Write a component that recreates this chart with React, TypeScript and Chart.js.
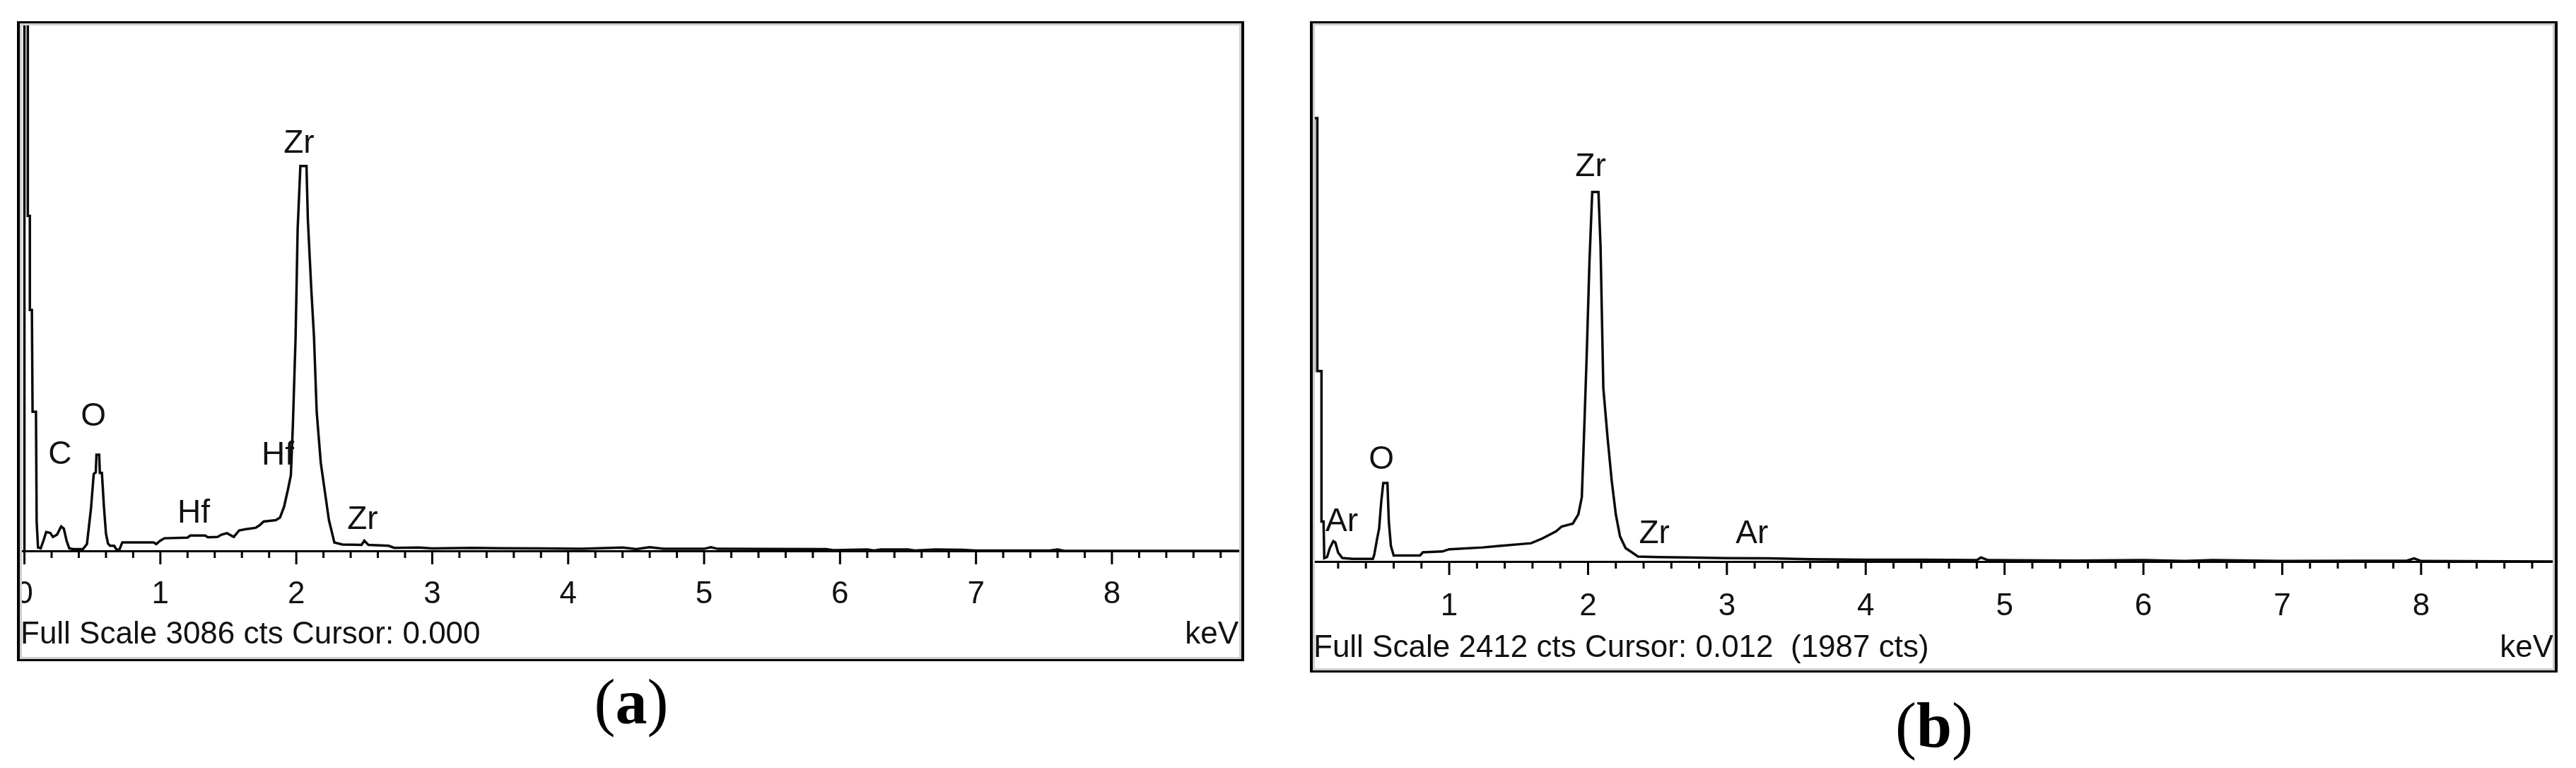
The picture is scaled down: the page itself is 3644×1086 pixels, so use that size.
import React, { useEffect, useRef } from 'react';
import { Chart, registerables } from 'chart.js';

Chart.register(...registerables);

// ---------------- DATA ----------------
// Panel (a)
const energyA = [
  0.0, 0.0, 0.025, 0.025, 0.04, 0.04, 0.055, 0.06, 0.085, 0.09, 0.1, 0.12,
  0.14, 0.16, 0.19, 0.21, 0.24, 0.27, 0.29, 0.31, 0.33, 0.36, 0.43,
  0.46, 0.49, 0.51, 0.525, 0.53, 0.55, 0.555, 0.57, 0.585, 0.6, 0.615, 0.63, 0.66, 0.68, 0.7, 0.72,
  0.95, 0.97, 1.0, 1.03, 1.2, 1.22, 1.33, 1.35, 1.42, 1.45, 1.49, 1.54, 1.58, 1.63, 1.7, 1.73, 1.76,
  1.85, 1.88, 1.91, 1.94, 1.96, 1.975, 1.995, 2.01, 2.03, 2.075, 2.085, 2.11, 2.13, 2.15, 2.18, 2.21,
  2.24, 2.28, 2.34, 2.48, 2.5, 2.53, 2.68, 2.72,
  2.9, 3.0, 3.3, 3.5, 3.8, 4.1, 4.4, 4.5, 4.6, 4.7, 5.0, 5.05, 5.1, 5.9, 5.95, 6.2, 6.25, 6.3,
  6.5, 6.55, 6.7, 6.9, 7.0, 7.55, 7.6, 7.65, 8.96,
];
const countsA = [
  0, 3600, 3600, 1960, 1960, 1410, 1410, 814, 814, 172, 20, 15,
  60, 110, 105, 82, 95, 143, 130, 60, 15, 10, 10,
  40, 250, 450, 460, 563, 563, 456, 456, 258, 100, 43, 30, 30, 5, 10, 50,
  50, 40, 60, 74, 78, 90, 90, 80, 82, 95, 104, 82, 120, 127, 135, 150, 172,
  180, 195, 258, 364, 442, 739, 1256, 1883, 2251, 2251, 1940, 1535, 1256, 814, 516, 348,
  180, 49, 37, 35, 60, 35, 30, 18,
  20, 14, 18, 16, 14, 12, 20, 10, 22, 12, 12, 22, 12, 10, 4, 8, 2, 8,
  8, 2, 8, 6, 2, 3, 8, 0, 0,
];
const peakNamesA = ['C', 'O', 'Hf', 'Hf', 'Zr', 'Zr'];
const peakEnergyA = [0.262, 0.507, 1.245, 1.864, 2.02, 2.488];
const peakCountsA = [508, 733, 164, 503, 2329, 127];
const fullScaleA = 3086;
const footerA = 'Full Scale 3086 cts Cursor: 0.000';

// Panel (b)
const energyB = [
  0.0, 0.025, 0.025, 0.05, 0.05, 0.08, 0.08, 0.095, 0.1,
  0.12, 0.14, 0.165, 0.18, 0.2, 0.23, 0.3, 0.45,
  0.46, 0.48, 0.495, 0.51, 0.525, 0.555, 0.565, 0.58, 0.6, 0.79, 0.81, 0.95, 1.0,
  1.24, 1.36, 1.59, 1.67, 1.77, 1.81, 1.89, 1.93, 1.955, 1.97, 1.99, 2.01, 2.03, 2.075,
  2.09, 2.11, 2.14, 2.17, 2.2, 2.23, 2.27, 2.36, 2.5,
  2.7, 3.0, 3.3, 3.6, 4.0, 4.4, 4.8, 4.83, 4.88, 5.5, 6.0, 6.3, 6.5, 6.8, 7.0, 7.5, 7.9, 7.95, 8.0, 8.96,
];
const countsB = [
  853, 853, 1987, 1987, 853, 853, 179, 179, 15,
  20, 60, 91, 85, 40, 16, 12, 12,
  30, 100, 147, 266, 352, 352, 179, 70, 27, 27, 41, 45, 55,
  63, 70, 82, 103, 135, 157, 170, 211, 288, 549, 919, 1342, 1656, 1656,
  1408, 778, 558, 364, 211, 113, 60, 22, 20,
  18, 15, 14, 10, 8, 8, 6, 18, 6, 4, 6, 2, 6, 4, 2, 3, 4, 14, 2, 0,
];
const peakNamesB = ['Ar', 'O', 'Zr', 'Zr', 'Ar'];
const peakEnergyB = [0.226, 0.511, 2.018, 2.477, 3.18];
const peakCountsB = [135, 414, 1728, 82, 82];
const fullScaleB = 2412;
const footerB = 'Full Scale 2412 cts Cursor: 0.012  (1987 cts)';

const unitLabel = 'keV';
const minorStep = 0.2;

// ---------------- CHART ----------------
const SANS = '"Liberation Sans", Arial, sans-serif';
const SIDE = 60;

const isMajor = (v: number) => Math.abs(v - Math.round(v)) < 1e-6;

const decorPlugin = {
  id: 'decor',
  afterDraw(chart: any, _args: any, opts: any) {
    const { ctx, chartArea } = chart;
    const xs = chart.scales.x;
    const ys = chart.scales.y;
    ctx.save();
    // tick marks
    ctx.strokeStyle = '#000';
    ctx.lineWidth = 3;
    xs.ticks.forEach((t: any) => {
      const px = xs.getPixelForValue(t.value);
      const len = isMajor(t.value) ? opts.majorLen : opts.minorLen;
      ctx.beginPath();
      ctx.moveTo(px, chartArea.bottom);
      ctx.lineTo(px, chartArea.bottom + len);
      ctx.stroke();
    });
    // peak labels
    ctx.fillStyle = '#111';
    ctx.font = `46px ${SANS}`;
    ctx.textAlign = 'center';
    ctx.textBaseline = 'alphabetic';
    opts.names.forEach((n: string, i: number) => {
      ctx.fillText(n, xs.getPixelForValue(opts.energies[i]), ys.getPixelForValue(opts.counts[i]));
    });
    // footer
    ctx.font = `44px ${SANS}`;
    ctx.textAlign = 'left';
    ctx.fillText(opts.footer, chartArea.left + 1, chartArea.bottom + opts.footerDy);
    ctx.textAlign = 'right';
    ctx.fillText(unitLabel, chartArea.right - opts.unitInset, chartArea.bottom + opts.footerDy);
    ctx.restore();
  },
};

type SpecProps = {
  energy: number[];
  counts: number[];
  names: string[];
  peakE: number[];
  peakC: number[];
  fullScale: number;
  footer: string;
  xMin: number;
  xMax: number;
  width: number;
  height: number;
  tickPad: number;
  bottomPad: number;
  footerDy: number;
  majorLen: number;
  minorLen: number;
  unitInset: number;
};

function Spectrum(p: SpecProps) {
  const ref = useRef<HTMLCanvasElement | null>(null);
  useEffect(() => {
    if (!ref.current) return;
    const chart = new Chart(ref.current, {
      type: 'line',
      data: {
        datasets: [
          {
            data: p.energy.map((e, i) => ({ x: e, y: p.counts[i] })),
            borderColor: '#0a0a0a',
            borderWidth: 3.5,
            pointRadius: 0,
            tension: 0,
            fill: false,
          },
        ],
      },
      options: {
        animation: false,
        responsive: false,
        maintainAspectRatio: false,
        events: [],
        layout: { padding: { left: SIDE, right: SIDE, top: 0, bottom: p.bottomPad } },
        plugins: {
          legend: { display: false },
          tooltip: { enabled: false },
          decor: {
            names: p.names,
            energies: p.peakE,
            counts: p.peakC,
            footer: p.footer,
            footerDy: p.footerDy,
            majorLen: p.majorLen,
            minorLen: p.minorLen,
            unitInset: p.unitInset,
          },
        } as any,
        scales: {
          x: {
            type: 'linear',
            min: p.xMin,
            max: p.xMax,
            grid: { display: false },
            border: { display: true, color: '#000', width: 3 },
            ticks: {
              stepSize: minorStep,
              includeBounds: false,
              autoSkip: false,
              maxRotation: 0,
              minRotation: 0,
              padding: p.tickPad,
              color: '#111',
              font: { family: SANS, size: 44, lineHeight: 1 },
              callback: (v: any) => (isMajor(Number(v)) ? String(Math.round(Number(v))) : ''),
            },
          },
          y: { display: false, min: 0, max: p.fullScale },
        },
      },
      plugins: [decorPlugin as any],
    });
    return () => chart.destroy();
  }, []);
  return (
    <canvas
      ref={ref}
      width={p.width}
      height={p.height}
      style={{ position: 'absolute', left: -SIDE, top: 0, width: p.width, height: p.height }}
    />
  );
}

type BoxProps = { left: number; top: number; width: number; height: number; children: React.ReactNode };

function Box({ left, top, width, height, children }: BoxProps) {
  return (
    <div
      style={{
        position: 'absolute',
        left,
        top,
        width,
        height,
        boxSizing: 'border-box',
        borderStyle: 'solid',
        borderColor: '#000',
        borderWidth: '3px 4px 3px 4px',
        overflow: 'hidden',
        background: '#fff',
      }}
    >
      {children}
      <div
        style={{
          position: 'absolute',
          inset: 0,
          boxShadow: 'inset 0 0 0 3px #cfcfcf',
          pointerEvents: 'none',
        }}
      />
    </div>
  );
}

function Caption({ letter, cx, baseline }: { letter: string; cx: number; baseline: number }) {
  const size = 90;
  return (
    <div
      style={{
        position: 'absolute',
        left: cx - 200,
        width: 400,
        top: baseline - size * 0.8375,
        textAlign: 'center',
        fontFamily: '"Liberation Serif", "Times New Roman", serif',
        fontSize: size,
        lineHeight: 1,
        color: '#000',
      }}
    >
      (<b>{letter}</b>)
    </div>
  );
}

export default function App() {
  return (
    <div
      style={{
        position: 'fixed',
        left: 0,
        top: 0,
        width: 3644,
        height: 1086,
        background: '#fff',
        overflow: 'hidden',
      }}
    >
      <Box left={24} top={30} width={1736} height={905}>
        <Spectrum
          energy={energyA}
          counts={countsA}
          names={peakNamesA}
          peakE={peakEnergyA}
          peakC={peakCountsA}
          fullScale={fullScaleA}
          footer={footerA}
          xMin={-0.034}
          xMax={8.952}
          width={1728 + 2 * SIDE}
          height={899}
          tickPad={32}
          bottomPad={37}
          footerDy={131}
          majorLen={19}
          minorLen={10}
          unitInset={4}
        />
      </Box>
      <Box left={1853} top={30} width={1765} height={921}>
        <Spectrum
          energy={energyB}
          counts={countsB}
          names={peakNamesB}
          peakE={peakEnergyB}
          peakC={peakCountsB}
          fullScale={fullScaleB}
          footer={footerB}
          xMin={0.017}
          xMax={8.963}
          width={1757 + 2 * SIDE}
          height={915}
          tickPad={34}
          bottomPad={34}
          footerDy={135}
          majorLen={19}
          minorLen={10}
          unitInset={2}
        />
      </Box>
      <Caption letter="a" cx={893} baseline={1023} />
      <Caption letter="b" cx={2736} baseline={1056} />
    </div>
  );
}
